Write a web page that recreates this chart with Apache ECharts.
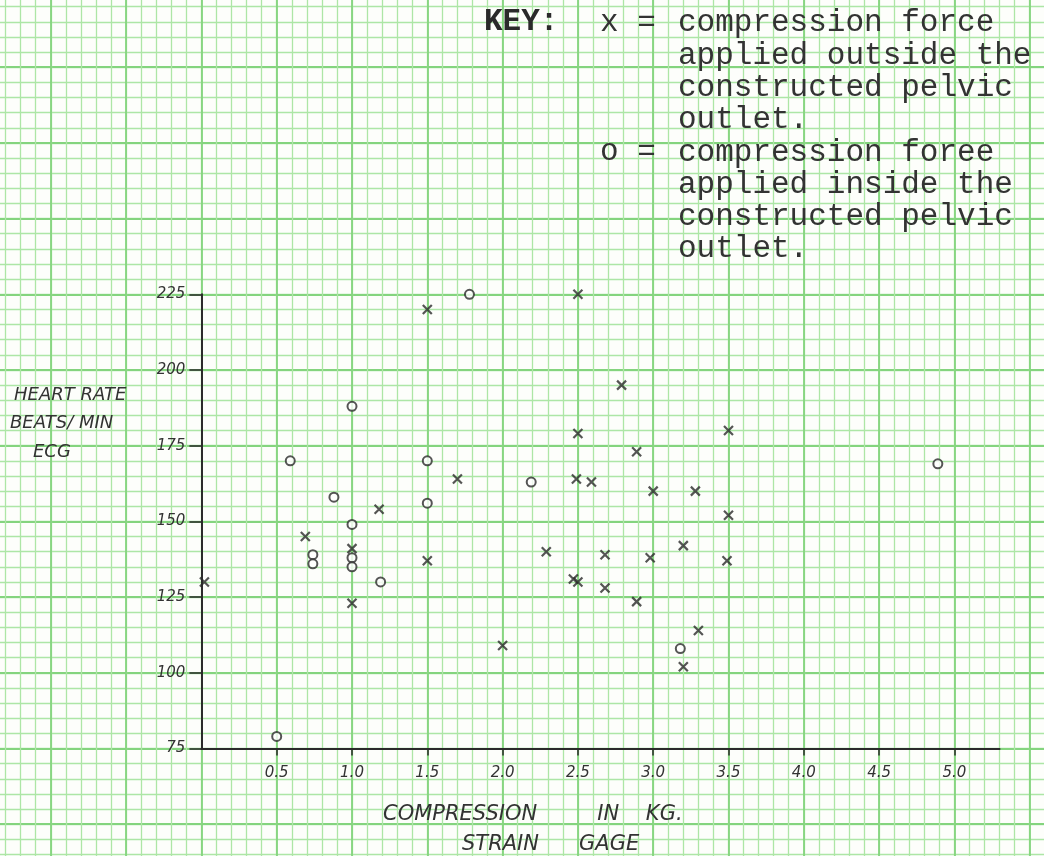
<!DOCTYPE html>
<html>
<head>
<meta charset="utf-8">
<script src="https://cdn.jsdelivr.net/npm/echarts@6/dist/echarts.min.js"></script>
<style>
html,body{margin:0;padding:0;background:#fff;}
#chart{width:1044px;height:856px;}
</style>
</head>
<body>
<div id="chart"></div>
<script>
// x = compression force applied outside the constructed pelvic outlet
var outsidePoints = [
  [0.02,130],[0.69,145],[1.0,141],[1.0,123],[1.18,154],[1.5,220],[1.5,137],[1.7,164],
  [2.0,109],[2.29,140],[2.47,131],[2.5,130],[2.49,164],[2.5,179],[2.5,225],[2.59,163],
  [2.68,139],[2.68,128],[2.79,195],[2.89,173],[2.89,123.5],[2.98,138],[3.0,160],
  [3.2,142],[3.2,102],[3.28,160],[3.3,114],[3.49,137],[3.5,152],[3.5,180]
];
// o = compression force applied inside the constructed pelvic outlet
var insidePoints = [
  [0.5,79],[0.59,170],[0.74,139],[0.74,136],[0.88,158],[1.0,188],[1.0,149],[1.0,138],
  [1.0,135],[1.19,130],[1.5,170],[1.5,156],[1.78,225],[2.19,163],[3.18,108],[4.89,169]
];
var xTicks = [0.5,1.0,1.5,2.0,2.5,3.0,3.5,4.0,4.5,5.0];
var yTicks = [75,100,125,150,175,200,225];
var keyOutside = ['compression force','applied outside the','constructed pelvic','outlet.'];
var keyInside = ['compression foree','applied inside the','constructed pelvic','outlet.'];
var yTitleLines = ['HEART RATE','BEATS/ MIN','ECG'];
var xTitleLines = ['COMPRESSION         IN    KG.','STRAIN      GAGE'];

var chart = echarts.init(document.getElementById('chart'), null, {renderer:'canvas'});

var W = 1044, H = 856;
var pxPerX = 150.6, pxPerY = 3.028, left0 = 201.4, top0 = 294.3;
var ink = '#2b2b2b';
var typeFamily = "'Liberation Mono', 'Courier New', Courier, monospace";
var handFamily = "'DejaVu Sans', sans-serif";
var minorColor = '#ade6a6', majorColor = '#84d47e';

function paperAxis(gi, mn, mx, step, color, w){
  return {type:'value', gridIndex:gi, min:mn, max:mx, interval:step,
    axisLine:{show:false}, axisTick:{show:false}, axisLabel:{show:false},
    splitLine:{show:true, lineStyle:{color:color, width:w}}};
}
function hiddenAxis(gi){
  return {type:'value', gridIndex:gi, min:0, max:1, show:false, splitLine:{show:false}};
}

var option = {
  animation:false,
  backgroundColor:'#fdfefb',
  grid:[
    {left:left0, top:top0, width:5.3*pxPerX, height:150*pxPerY},
    // vertical minor lines: x -1.3..5.5 step 0.1
    {left:left0-1.3*pxPerX, top:0, width:6.8*pxPerX, height:H},
    // vertical major lines: x -1.0..5.5 step 0.5
    {left:left0-1.0*pxPerX, top:0, width:6.5*pxPerX, height:H},
    // horizontal minor lines: y 40..320 step 5
    {left:0, top:top0-95*pxPerY, width:W, height:280*pxPerY},
    // horizontal major lines: y 50..300 step 25
    {left:0, top:top0-75*pxPerY, width:W, height:250*pxPerY}
  ],
  xAxis:[
    {type:'value', gridIndex:0, min:0, max:5.3,
     axisLine:{show:true, onZero:false, lineStyle:{color:ink, width:2}},
     axisTick:{show:true, customValues:xTicks, length:7, lineStyle:{color:ink, width:1.5}},
     axisLabel:{show:true, customValues:xTicks, margin:17, fontSize:15,
       fontFamily:handFamily, fontStyle:'italic', color:'#333',
       formatter:function(v){return v.toFixed(1);}},
     splitLine:{show:false}},
    paperAxis(1, -1.3, 5.5, 0.1, minorColor, 1.3),
    paperAxis(2, -1.0, 5.5, 0.5, majorColor, 1.8),
    hiddenAxis(3),
    hiddenAxis(4)
  ],
  yAxis:[
    {type:'value', gridIndex:0, min:75, max:225, interval:25,
     axisLine:{show:true, onZero:false, lineStyle:{color:ink, width:2}},
     axisTick:{show:true, customValues:yTicks, length:12, lineStyle:{color:ink, width:1.5}},
     axisLabel:{show:true, customValues:yTicks, margin:16, fontSize:15,
       fontFamily:handFamily, fontStyle:'italic', color:'#333'},
     splitLine:{show:false}},
    hiddenAxis(1),
    hiddenAxis(2),
    paperAxis(3, 40, 320, 5, minorColor, 1.3),
    paperAxis(4, 50, 300, 25, majorColor, 1.8)
  ],
  series:[
    {name:'x = outside', type:'scatter', xAxisIndex:0, yAxisIndex:0, z:5,
     symbol:'path://M0 0L10 10M10 0L0 10', symbolSize:9,
     itemStyle:{color:'rgba(0,0,0,0)', borderColor:ink, borderWidth:2.2},
     data:outsidePoints},
    {name:'o = inside', type:'scatter', xAxisIndex:0, yAxisIndex:0, z:5,
     symbol:'emptyCircle', symbolSize:9,
     itemStyle:{color:ink, borderColor:ink, borderWidth:2},
     data:insidePoints}
  ],
  graphic:[
    {type:'text', left:484, top:7, z:10, style:{text:'KEY:', fontFamily:typeFamily, fontSize:31, fontWeight:'bold', fill:'#2a2a2a'}},
    {type:'text', left:600, top:7, z:10, style:{text:'x =', fontFamily:typeFamily, fontSize:31, fill:'#333'}},
    {type:'text', left:678, top:7, z:10, style:{text:keyOutside.join('\n'), fontFamily:typeFamily, fontSize:31, fill:'#333', lineHeight:32.3}},
    {type:'text', left:600, top:136.2, z:10, style:{text:'o =', fontFamily:typeFamily, fontSize:31, fill:'#333'}},
    {type:'text', left:678, top:136.2, z:10, style:{text:keyInside.join('\n'), fontFamily:typeFamily, fontSize:31, fill:'#333', lineHeight:32.3}},
    {type:'text', left:14, top:386, z:10, style:{text:yTitleLines[0], fontFamily:handFamily, fontStyle:'italic', fontSize:18, fill:'#333'}},
    {type:'text', left:10, top:414, z:10, style:{text:yTitleLines[1], fontFamily:handFamily, fontStyle:'italic', fontSize:18, fill:'#333'}},
    {type:'text', left:33, top:443, z:10, style:{text:yTitleLines[2], fontFamily:handFamily, fontStyle:'italic', fontSize:18, fill:'#333'}},
    {type:'text', left:383, top:804, z:10, style:{text:xTitleLines[0], fontFamily:handFamily, fontStyle:'italic', fontSize:21, fill:'#333'}},
    {type:'text', left:462, top:834, z:10, style:{text:xTitleLines[1], fontFamily:handFamily, fontStyle:'italic', fontSize:21, fill:'#333'}}
  ]
};
chart.setOption(option);
</script>
</body>
</html>
